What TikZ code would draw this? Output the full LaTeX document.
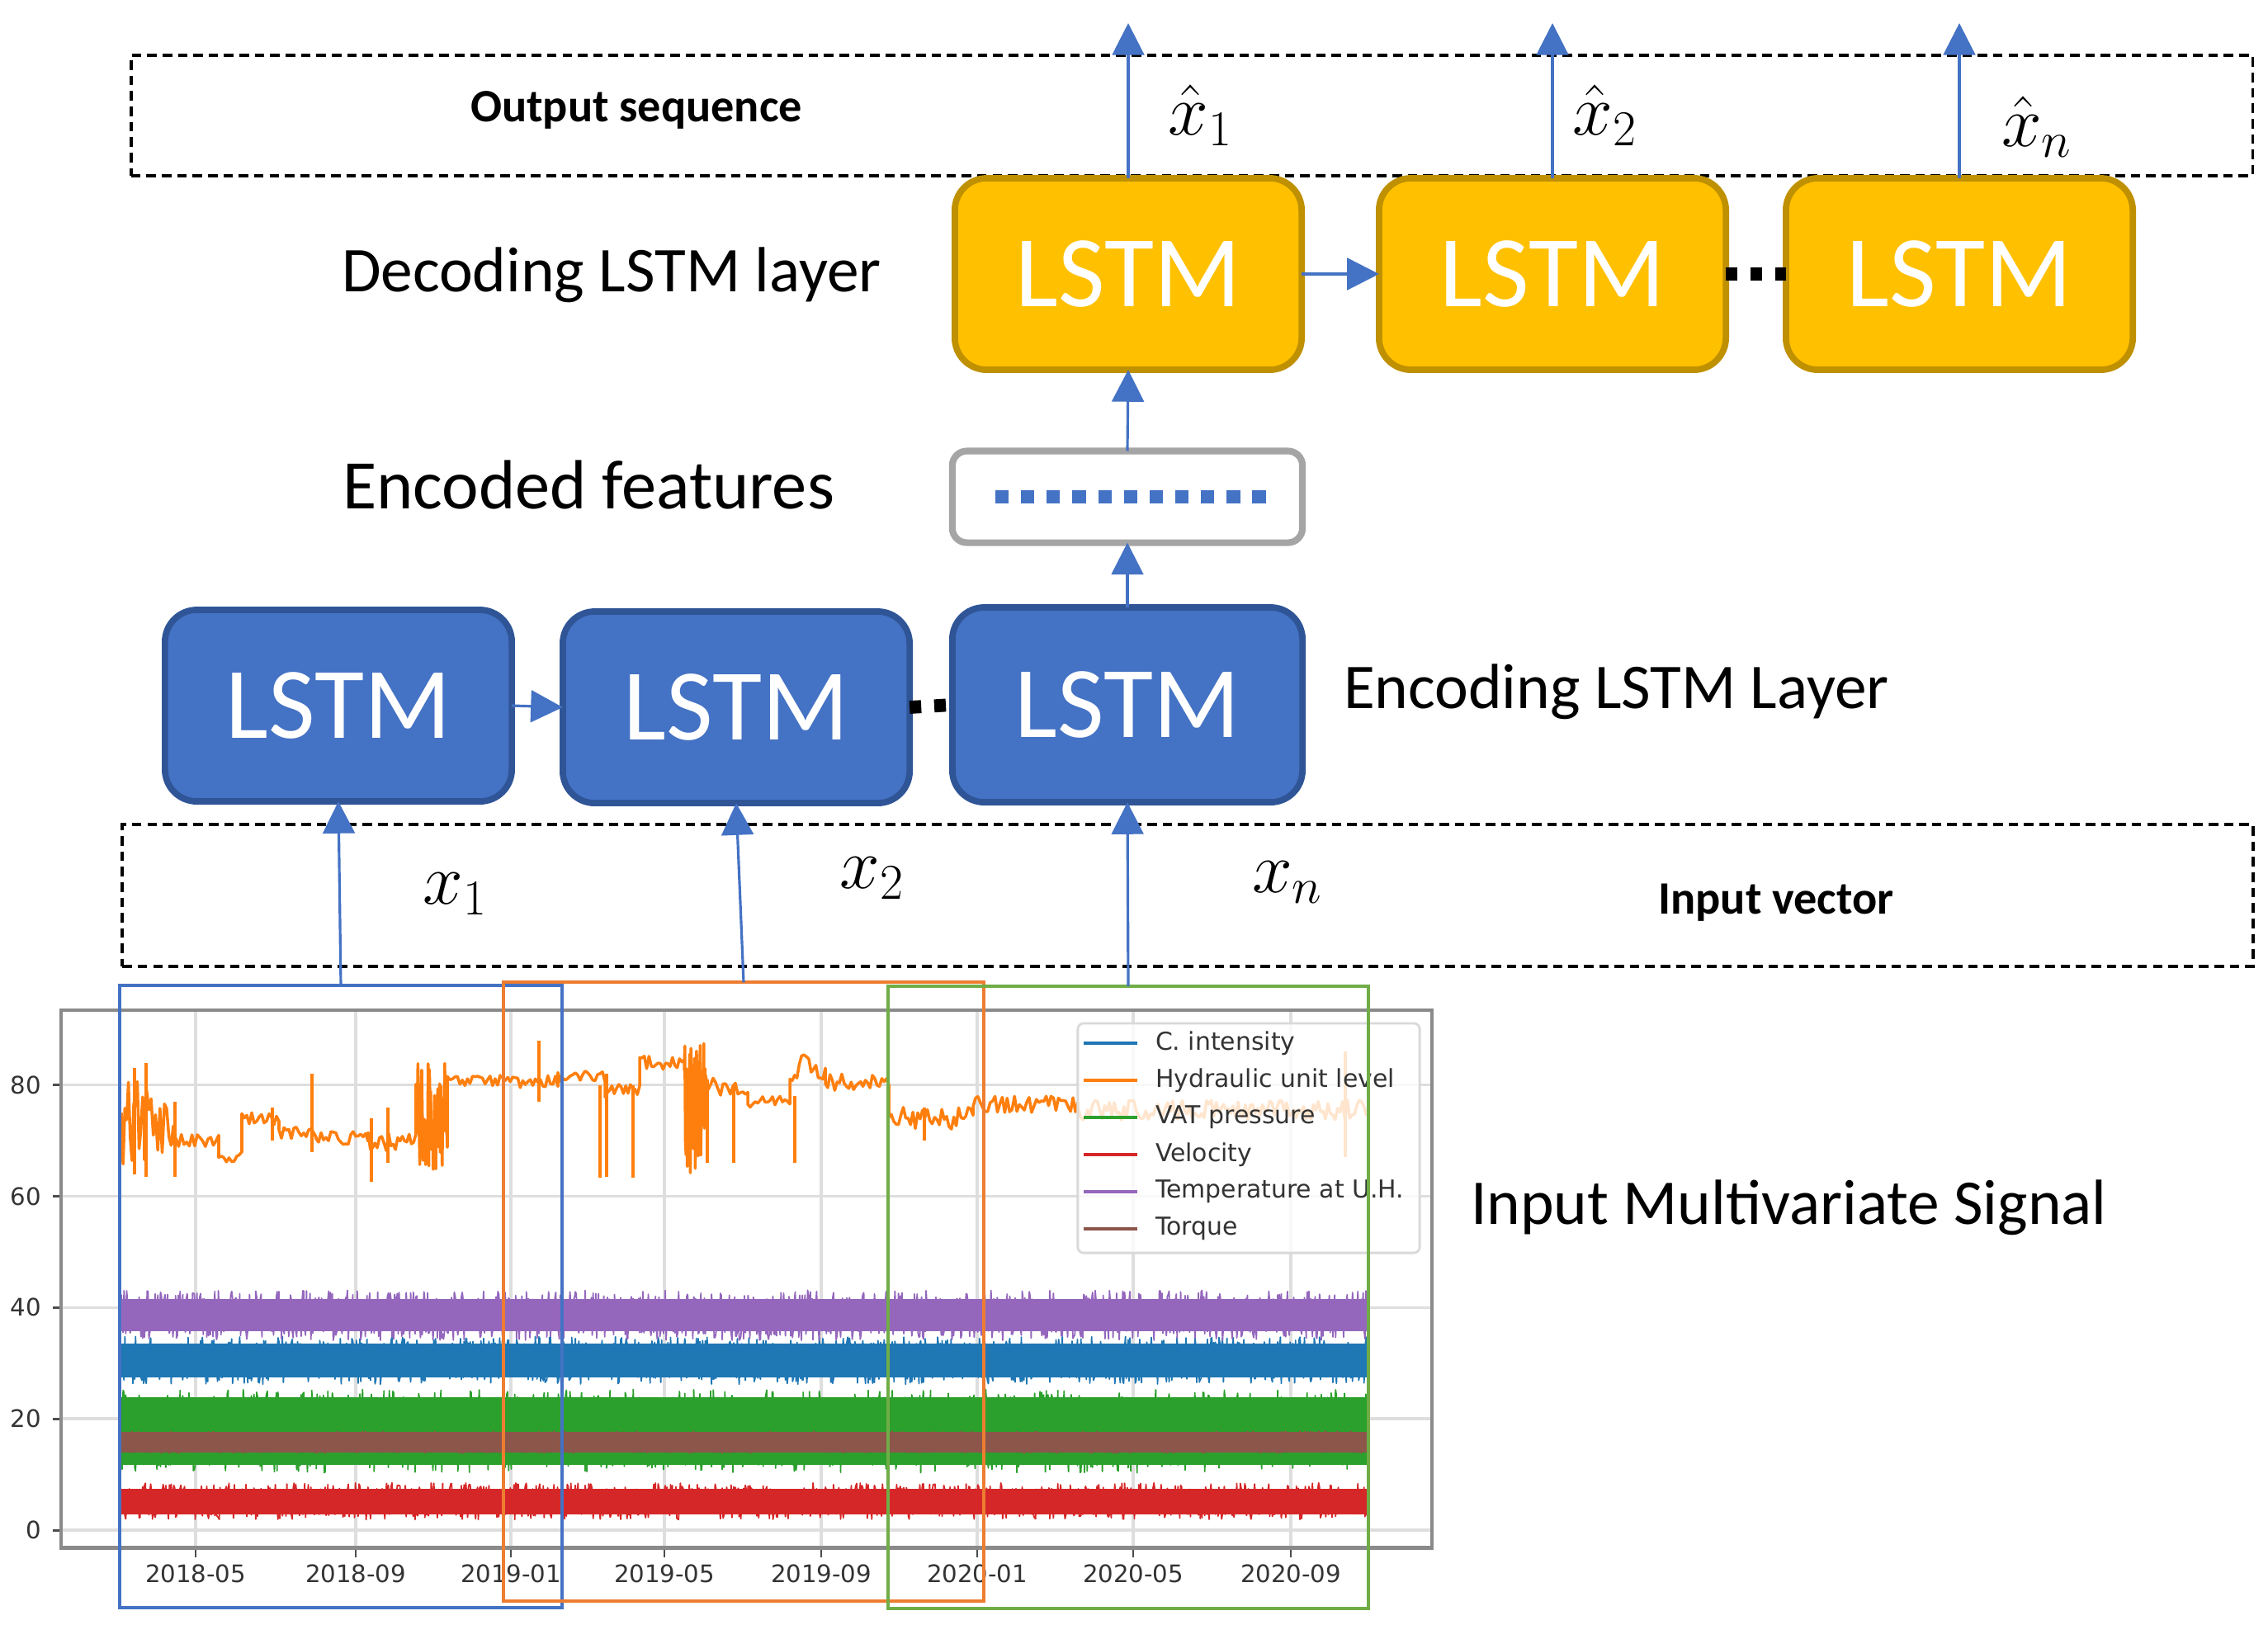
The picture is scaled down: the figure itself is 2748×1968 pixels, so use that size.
\documentclass[tikz,border=0pt]{standalone}
\usepackage{amsmath}
\usepackage{fontspec}
\setmainfont{Carlito}
\newfontfamily\plotfont{DejaVu Sans}
\usetikzlibrary{arrows.meta}

\definecolor{lstmblue}{HTML}{4472C4}
\definecolor{lstmblueline}{HTML}{2F5597}
\definecolor{lstmgold}{HTML}{FFC000}
\definecolor{lstmgoldline}{HTML}{BF9000}
\definecolor{featgray}{HTML}{A5A5A5}
\definecolor{winorange}{HTML}{ED7D31}
\definecolor{wingreen}{HTML}{70AD47}
\definecolor{sigblue}{HTML}{1F77B4}
\definecolor{sigorange}{HTML}{FF7F0E}
\definecolor{siggreen}{HTML}{2CA02C}
\definecolor{sigred}{HTML}{D62728}
\definecolor{sigpurple}{HTML}{9467BD}
\definecolor{sigbrown}{HTML}{8C564B}
\definecolor{gridgray}{HTML}{DEDEDE}
\definecolor{spinegray}{HTML}{8A8A8A}

\begin{document}
\begin{tikzpicture}[x=0.01cm, y=-0.01cm,
  every node/.style={inner sep=0pt, outer sep=0pt},
  enclstm/.style={draw=lstmblueline, fill=lstmblue, line width=2.2pt, rounded corners=11pt,
    minimum width=4.2cm, minimum height=2.32cm, text=white, font=\fontsize{35}{40}\selectfont},
  declstm/.style={enclstm, draw=lstmgoldline, fill=lstmgold},
  flow/.style={-{Triangle[length=11pt, width=11pt]}, draw=lstmblue, line width=0.9pt},
  seqbox/.style={draw, dash pattern=on 3.3pt off 2pt, line width=1pt},
  dotsline/.style={line width=4.5pt, dash pattern=on 4pt off 4.5pt},
  featdots/.style={draw=lstmblue, line width=4.5pt, dash pattern=on 4.6pt off 4.26pt},
  layerlabel/.style={anchor=west, font=\fontsize{22}{26}\selectfont},
  boxlabel/.style={font=\bfseries\fontsize{16}{19}\selectfont},
  veclabel/.style={font=\fontsize{25}{30}\selectfont},
  window/.style={draw, line width=1.1pt},
  gridline/.style={gridgray, line width=1pt},
  ticklabel/.style={text=black!80, font=\plotfont\fontsize{8.3}{10}\selectfont},
  signal/.style={line width=0.5pt, line join=round}]

\useasboundingbox (0,0) rectangle (2748,1968);

% multivariate signal plot
\begin{scope}[yshift=-18.53cm, y=0.0674cm]
  \foreach \gx in {237,431,619,805,995,1184,1373,1564}
    \draw[gridline] (\gx,-3.26) -- (\gx,93.3);
  \foreach \gy in {0,20,...,80}
    \draw[gridline] (74,\gy) -- (1735,\gy);

  \pgfmathsetseed{2021}
  \foreach \col/\mid/\core/\amp in {sigblue/30.5/3.1/4.3, siggreen/17.8/6.1/7.5, sigred/5.2/2.3/3.3,
      sigpurple/38.6/2.9/4.5, sigbrown/15.8/1.8/2} {
    \fill[\col] (147,{\mid-\core}) rectangle (1656,{\mid+\core});
    \draw[signal, \col] plot[domain=147:1656, samples=1400] (\x, {\mid+\amp*rand});
  }
  \draw[signal, sigorange, line width=1pt] (147,75)
    \foreach \xa/\xb/\lev/\amp/\n in {147/175/73/8/14, 175/210/72/7/14, 210/265/70/1.2/18,
      265/293/67/1/10, 293/338/74/1.2/16, 338/383/71.5/1.2/16, 383/446/70.5/1.2/22,
      446/504/70/2/22, 504/542/74/10/50, 542/606/80.8/1/22, 606/676/80.5/1.2/24,
      676/733/81.5/1/20, 733/775/79/1.5/16, 775/829/84/1.2/20, 829/855/76/12/36,
      855/906/80/2/18, 906/957/77/1/18, 957/1000/83/2.5/16, 1000/1077/80.5/1.5/28,
      1077/1179/74/2/36, 1179/1306/76.5/1.5/44, 1306/1656/75.5/1.8/120}
    { -- plot[domain=\xa:\xb, samples=\n] (\x, {\lev+\amp*rand}) };
  \foreach \sx/\slo/\shi in {163/64/83, 177/63.5/84, 212/63.5/77, 330/70/76, 378/68/82,
      450/62.6/74, 470/66/76, 653/77/88, 727/63.3/80, 735/63.5/82, 767/63.4/80,
      857/66/81, 889/66/80, 963/66/78, 1120/70/76, 1630/67/86}
    \draw[sigorange, line width=1pt] (\sx,\slo) -- (\sx,\shi);

  \foreach \gy in {0,20,...,80} {
    \draw[black!70, line width=0.8pt] (64,\gy) -- (74,\gy);
    \node[ticklabel, anchor=east] (ylab\gy) at (50,\gy) {\gy};
  }
  \foreach \gx/\lab [count=\i] in {237/2018-05, 431/2018-09, 619/2019-01, 805/2019-05,
      995/2019-09, 1184/2020-01, 1373/2020-05, 1564/2020-09} {
    \draw[black!70, line width=0.8pt] (\gx,-3.26) -- (\gx,-4.9);
    \node[ticklabel] (xlab\i) at (\gx,-7.86) {\lab};
  }
\end{scope}
\draw[spinegray, line width=1.4pt] (74,1224) rectangle (1735,1875);

% legend
\node[draw=black!15, fill=white, fill opacity=0.8, rounded corners=2pt, line width=0.8pt,
  minimum width=4.14cm, minimum height=2.78cm] (legend) at (1513,1379) {};
\foreach \ly/\col/\lab [count=\i] in {1264/sigblue/C. intensity, 1309/sigorange/Hydraulic unit level,
    1354/siggreen/VAT pressure, 1399/sigred/Velocity, 1444/sigpurple/Temperature at U.H.,
    1489/sigbrown/Torque} {
  \draw[\col, line width=1.3pt] (1313,\ly) -- (1378,\ly);
  \node[ticklabel, anchor=west, font=\plotfont\fontsize{8.5}{10}\selectfont] (leg\i) at (1400,\ly) {\lab};
}

% input windows
\node[window, draw=lstmblue, minimum width=5.36cm, minimum height=7.53cm] (win1) at (413,1571) {};
\node[window, draw=winorange, minimum width=5.81cm, minimum height=7.49cm] (win2) at (901,1565) {};
\node[window, draw=wingreen, minimum width=5.81cm, minimum height=7.54cm] (win3) at (1367,1572) {};

% dashed sequence boxes
\node[seqbox, minimum width=25.69cm, minimum height=1.46cm] (outbox) at (1444,140) {};
\node[seqbox, minimum width=25.80cm, minimum height=1.72cm] (inbox) at (1439,1085) {};
\node[boxlabel] (outlabel) at (771,133) {Output sequence};
\node[boxlabel] (inlabel) at (2152,1094) {Input vector};

% encoder
\node[enclstm] (enc1) at (410,855) {LSTM};
\node[enclstm] (enc2) at (892,857) {LSTM};
\node[enclstm, minimum width=4.24cm, minimum height=2.36cm] (enc3) at (1366,854) {LSTM};
\node[layerlabel] (enclabel) at (1628,838) {Encoding LSTM Layer};

% encoded features
\node[draw=featgray, fill=white, line width=2.3pt, rounded corners=5pt,
  minimum width=4.24cm, minimum height=1.11cm] (feat) at (1366,602) {};
\draw[featdots] ([xshift=0.52cm]feat.west) -- ([xshift=-0.44cm]feat.east);
\node[layerlabel, font=\fontsize{24}{28}\selectfont] (featlabel) at (415,587) {Encoded features};

% decoder
\node[declstm] (dec1) at (1367,332) {LSTM};
\node[declstm] (dec2) at (1881,332) {LSTM};
\node[declstm] (dec3) at (2374,332) {LSTM};
\node[layerlabel] (declabel) at (414,333) {Decoding LSTM layer};

% vector labels
\node[veclabel] (x1) at (552,1083) {$x_1$};
\node[veclabel] (x2) at (1057,1064) {$x_2$};
\node[veclabel] (xn) at (1560,1069) {$x_n$};
\node[veclabel] (xh1) at (1455,140) {$\hat{x}_1$};
\node[veclabel] (xh2) at (1945,140) {$\hat{x}_2$};
\node[veclabel] (xhn) at (2468,154) {$\hat{x}_n$};
\node[layerlabel] (siglabel) at (1782,1463) {Input Multivariate Signal};

% connections
\coordinate (outtop) at (0,28);
\draw[flow] (win1.north) -- (enc1.south);
\draw[flow] (win2.north) -- (enc2.south);
\draw[flow] (win3.north) -- (enc3.south);
\draw[flow] (enc1.east) -- (enc2.west);
\draw[dotsline] (enc2.east) -- (enc3.west);
\draw[flow] (enc3.north) -- (feat.south);
\draw[flow] (feat.north) -- (dec1.south);
\draw[flow] (dec1.east) -- (dec2.west);
\draw[dotsline] (dec2.east) -- (dec3.west);
\draw[flow] (dec1.north) -- (dec1.north |- outtop);
\draw[flow] (dec2.north) -- (dec2.north |- outtop);
\draw[flow] (dec3.north) -- (dec3.north |- outtop);
\end{tikzpicture}
\end{document}
